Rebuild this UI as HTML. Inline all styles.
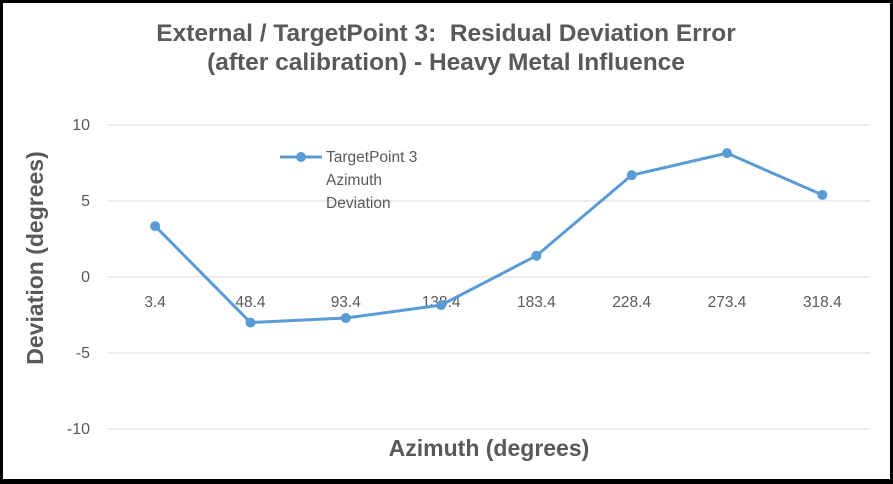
<!DOCTYPE html>
<html><head><meta charset="utf-8"><style>
html,body{margin:0;padding:0;background:#fff}
#c{position:relative;width:893px;height:484px;box-sizing:border-box;border-style:solid;border-color:#000;border-width:3px 3px 5px 3px;background:#fff;overflow:hidden}
svg{position:absolute;left:-3px;top:-3px}
text{font-family:"Liberation Sans",sans-serif;white-space:pre}
</style></head><body>
<div id="c">
<svg id="s" width="893" height="484" xml:space="preserve">
<text x="446" y="41" text-anchor="middle" font-size="24.5" font-weight="bold" fill="#595959">External / TargetPoint 3:  Residual Deviation Error</text>
<text x="446" y="70" text-anchor="middle" font-size="24.5" font-weight="bold" fill="#595959">(after calibration) - Heavy Metal Influence</text>
<text x="489" y="456" text-anchor="middle" font-size="23" font-weight="bold" fill="#595959">Azimuth (degrees)</text>
<text transform="translate(43,258) rotate(-90)" text-anchor="middle" font-size="23" font-weight="bold" fill="#595959">Deviation (degrees)</text>
<g id="grid"></g><g id="xl"></g><g id="series"></g>
<g>
<line x1="280" y1="157" x2="322" y2="157" stroke="#5b9bd5" stroke-width="3"/>
<circle cx="301" cy="157" r="5" fill="#5b9bd5"/>
<text x="326" y="162" font-size="15.5" fill="#595959">TargetPoint 3</text>
<text x="326" y="185" font-size="15.5" fill="#595959">Azimuth</text>
<text x="326" y="208" font-size="15.5" fill="#595959">Deviation</text>
</g>
</svg></div>
<script>
const categories=["3.4","48.4","93.4","138.4","183.4","228.4","273.4","318.4"];
const deviation=[3.35,-3.0,-2.7,-1.85,1.4,6.7,8.15,5.4];
const yTicks=[10,5,0,-5,-10];
const L=107.5,R=870,T=125,B=429,ymin=-10,ymax=10;
const NS="http://www.w3.org/2000/svg";
const bw=(R-L)/categories.length;
const xs=i=>L+bw*(i+0.5);
const ys=v=>B-(v-ymin)/(ymax-ymin)*(B-T);
function mk(t,a,p){const e=document.createElementNS(NS,t);for(const k in a)e.setAttribute(k,a[k]);p.appendChild(e);return e;}
const g=document.getElementById('grid');
yTicks.forEach(v=>{
 const l=mk('line',{x1:L,x2:R,y1:ys(v),y2:ys(v),stroke:'#d9d9d9','stroke-width':1},g);
 
 
 const t=mk('text',{x:90,y:ys(v)+5,'text-anchor':'end','font-size':16,fill:'#595959'},g);
 t.textContent=v;
 
 
});
const xl=document.getElementById('xl');
categories.forEach((c,i)=>{
 const t=mk('text',{x:xs(i),y:ys(0)+30,'text-anchor':'middle','font-size':15.5,fill:'#595959'},xl);
 t.textContent=c;
 
 
});
const sg=document.getElementById('series');
const p=mk('polyline',{points:deviation.map((v,i)=>xs(i)+','+ys(v)).join(' '),fill:'none',stroke:'#5b9bd5','stroke-width':3,'stroke-linejoin':'round'},sg);


deviation.forEach((v,i)=>{
 const c=mk('circle',{cx:xs(i),cy:ys(v),r:5,fill:'#5b9bd5'},sg);
 
 
});
</script>
</body></html>
